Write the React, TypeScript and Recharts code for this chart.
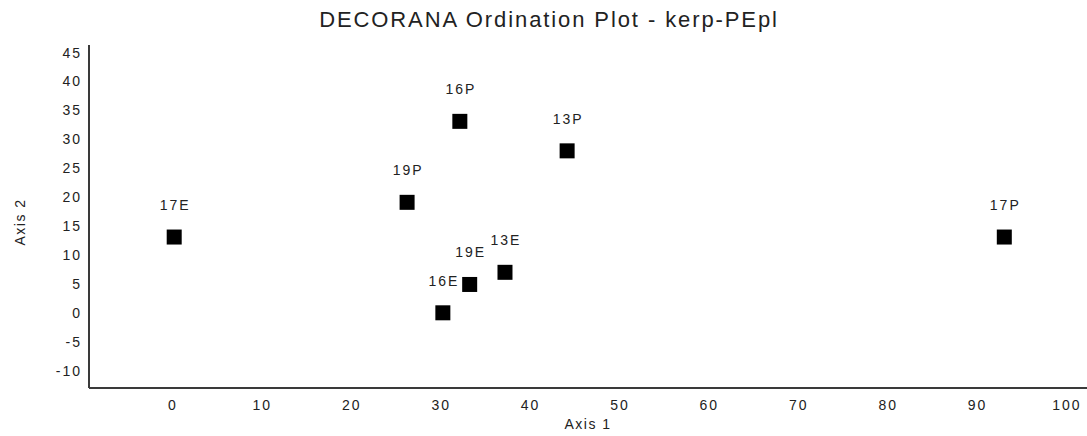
import React from "react";
import { ScatterChart, Scatter, XAxis, YAxis } from "recharts";

const chartTitle = "DECORANA Ordination Plot - kerp-PEpl";
const xAxisTitle = "Axis 1";
const yAxisTitle = "Axis 2";

const sampleLabels = ["17E", "19P", "16P", "13P", "13E", "19E", "16E", "17P"];
const axis1Scores = [0.25, 26.3, 32.2, 44.2, 37.25, 33.3, 30.3, 93.1];
const axis2Scores = [13.1, 19.1, 33.1, 28.0, 7.0, 4.9, 0.0, 13.1];

const xTicks = [0, 10, 20, 30, 40, 50, 60, 70, 80, 90, 100];
const yTicks = [-10, -5, 0, 5, 10, 15, 20, 25, 30, 35, 40, 45];
const xDomain = [-9.28, 102.35];
const yDomain = [-13.0, 46.3];

const data = sampleLabels.map((label, i) => ({
  label,
  x: axis1Scores[i],
  y: axis2Scores[i],
}));

const FONT = "'Liberation Sans', Arial, sans-serif";
const TEXT = "#222";
const LINE = "#3a3a3a";

const SquareMarker = (props: any) => {
  const { cx, cy, payload } = props;
  return (
    <g>
      <rect x={cx - 7.5} y={cy - 7.5} width={15} height={15} fill="#000" />
      <text
        x={cx + 1}
        y={cy - 32}
        textAnchor="middle"
        dominantBaseline="central"
        fontFamily={FONT}
        fontSize={14}
        letterSpacing={2}
        fill={TEXT}
      >
        {payload.label}
      </text>
    </g>
  );
};

const XTick = (props: any) => {
  const { x, payload } = props;
  return (
    <text
      x={x + 1}
      y={405}
      textAnchor="middle"
      dominantBaseline="central"
      fontFamily={FONT}
      fontSize={14}
      letterSpacing={2}
      fill={TEXT}
    >
      {payload.value}
    </text>
  );
};

const YTick = (props: any) => {
  const { y, payload } = props;
  return (
    <text
      x={82}
      y={y}
      textAnchor="end"
      dominantBaseline="central"
      fontFamily={FONT}
      fontSize={14}
      letterSpacing={2}
      fill={TEXT}
    >
      {payload.value}
    </text>
  );
};

export default function App() {
  return (
    <div style={{ position: "absolute", left: 0, top: 0, width: 1087, height: 436, background: "#fff", overflow: "hidden" }}>
      <div
        style={{
          position: "absolute",
          left: 0,
          width: 1098,
          top: 7,
          textAlign: "center",
          fontFamily: FONT,
          fontSize: 22,
          letterSpacing: 1.9,
          color: TEXT,
          lineHeight: "26px",
        }}
      >
        {chartTitle}
      </div>
      <div
        style={{
          position: "absolute",
          left: 89,
          width: 998,
          top: 415,
          textAlign: "center",
          fontFamily: FONT,
          fontSize: 14,
          letterSpacing: 1.5,
          color: TEXT,
          lineHeight: "18px",
        }}
      >
        {xAxisTitle}
      </div>
      <div
        style={{
          position: "absolute",
          left: 20 - 40,
          width: 80,
          top: 222 - 9,
          textAlign: "center",
          fontFamily: FONT,
          fontSize: 14,
          letterSpacing: 1.5,
          color: TEXT,
          lineHeight: "18px",
          transform: "rotate(-90deg)",
        }}
      >
        {yAxisTitle}
      </div>
      <ScatterChart
        width={1087}
        height={436}
        margin={{ top: 45, right: 0, bottom: 0, left: 0 }}
        style={{ position: "absolute", left: 0, top: 0 }}
      >
        <XAxis
          xAxisId="top"
          orientation="top"
          type="number"
          dataKey="x"
          domain={xDomain}
          allowDataOverflow
          height={0}
          tick={false}
          tickLine={false}
          axisLine={{ stroke: LINE, strokeWidth: 2 }}
        />
        <XAxis
          type="number"
          dataKey="x"
          domain={xDomain}
          allowDataOverflow
          ticks={xTicks}
          height={48}
          tickLine={false}
          tick={<XTick />}
          interval={0}
          axisLine={{ stroke: LINE, strokeWidth: 2 }}
        />
        <YAxis
          type="number"
          dataKey="y"
          domain={yDomain}
          allowDataOverflow
          ticks={yTicks}
          width={89}
          tickLine={false}
          tick={<YTick />}
          interval={0}
          axisLine={{ stroke: LINE, strokeWidth: 2 }}
        />
        <Scatter data={data} shape={<SquareMarker />} isAnimationActive={false} />
      </ScatterChart>
    </div>
  );
}
